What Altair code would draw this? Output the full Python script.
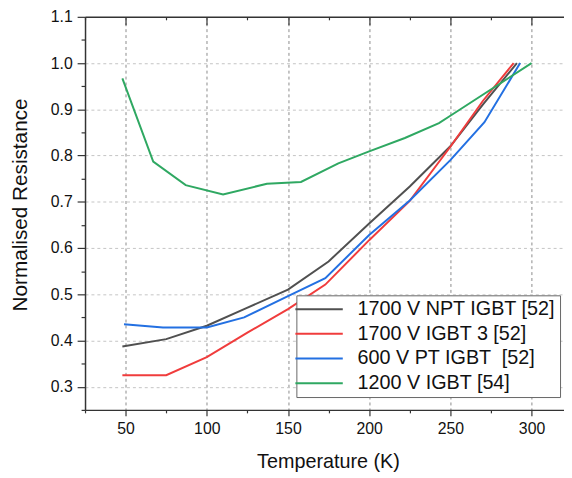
import altair as alt
import pandas as pd

# ---- data ----
series_names = ["1700 V NPT IGBT [52]", "1700 V IGBT 3 [52]", "600 V PT IGBT \u00a0[52]", "1200 V IGBT [54]"]
series_colors = ["#505050", "#f03c3c", "#2370e2", "#2fa862"]

npt_T = [48, 75, 100, 123, 150, 175, 200, 225, 250, 270, 291]
npt_R = [0.387, 0.403, 0.432, 0.468, 0.510, 0.571, 0.653, 0.733, 0.820, 0.910, 1.0]

igbt3_T = [48, 75, 100, 125, 150, 173, 200, 225, 250, 270, 289]
igbt3_R = [0.325, 0.325, 0.364, 0.417, 0.468, 0.521, 0.617, 0.702, 0.819, 0.918, 1.0]

pt_T = [49, 73, 100, 123, 150, 173, 200, 225, 250, 271, 293]
pt_R = [0.435, 0.428, 0.428, 0.450, 0.496, 0.535, 0.628, 0.703, 0.790, 0.872, 1.0]

v1200_T = [48, 67, 87, 110, 137, 158, 181, 200, 222, 243, 250, 300]
v1200_R = [0.967, 0.787, 0.736, 0.716, 0.739, 0.743, 0.783, 0.809, 0.838, 0.870, 0.886, 1.0]

x_ticks = [25, 50, 75, 100, 125, 150, 175, 200, 225, 250, 275, 300]
y_ticks = [0.25, 0.3, 0.35, 0.4, 0.45, 0.5, 0.55, 0.6, 0.65, 0.7, 0.75, 0.8, 0.85, 0.9, 0.95, 1.0, 1.05, 1.1]

rows = []
for name, T, R in zip(series_names, [npt_T, igbt3_T, pt_T, v1200_T], [npt_R, igbt3_R, pt_R, v1200_R]):
    for i, (t, r) in enumerate(zip(T, R)):
        rows.append({"series": name, "T": t, "R": r, "order": i})
df = pd.DataFrame(rows)

FONT = "Liberation Sans"
W, H = 485, 398

x_major = "datum.value % 50 === 0"
y_major = "round(datum.value * 100) % 10 === 0"

x_scale = alt.Scale(domain=[25, 320], nice=False, zero=False)
y_scale = alt.Scale(domain=[0.25, 1.1], nice=False, zero=False)

color = alt.Color(
    "series:N",
    scale=alt.Scale(domain=series_names, range=series_colors),
    sort=series_names,
    legend=alt.Legend(
        title=None,
        orient="none",
        legendX=214,
        legendY=282,
        direction="vertical",
        padding=4,
        strokeColor="#666666",
        fillColor="white",
        labelFont=FONT,
        labelFontSize=20,
        labelColor="#111111",
        labelLimit=500,
        symbolType="M-4.8,0L4.8,0",
        symbolSize=100,
        symbolStrokeWidth=2,
        symbolOffset=9,
        labelOffset=29,
        rowPadding=5,
    ),
)

lines = alt.Chart(df).mark_line(strokeWidth=2).encode(
    x=alt.X(
        "T:Q",
        scale=x_scale,
        axis=alt.Axis(
            values=x_ticks,
            title="Temperature (K)",
            titleFont=FONT,
            titleFontSize=20,
            titleFontWeight="normal",
            titleColor="#111111",
            titleBaseline="alphabetic",
            titleX=246,
            titleY=58.5,
            labelFont=FONT,
            labelFontSize=16,
            labelColor="#111111",
            labelExpr="datum.value % 50 === 0 ? datum.label : ''",
            labelPadding=5,
            domainColor="#333333",
            domainWidth=1.5,
            tickColor="#333333",
            tickWidth=1.2,
            tickSize={"condition": {"test": x_major, "value": 6}, "value": 3},
            grid=True,
            gridColor="#8a8a8a",
            gridDash=[3, 3],
            gridWidth=1,
            gridOpacity={"condition": {"test": "datum.value % 50 === 0 && datum.value > 25", "value": 1}, "value": 0},
        ),
    ),
    y=alt.Y(
        "R:Q",
        scale=y_scale,
        axis=alt.Axis(
            values=y_ticks,
            title="Normalised Resistance",
            titleFont=FONT,
            titleFontSize=21,
            titleFontWeight="normal",
            titleColor="#111111",
            titleBaseline="alphabetic",
            titleX=-59,
            titleY=190,
            labelFont=FONT,
            labelFontSize=16,
            labelColor="#111111",
            labelExpr=f"{y_major} ? format(datum.value, '.1f') : ''",
            labelPadding=5,
            domainColor="#333333",
            domainWidth=1.5,
            tickColor="#333333",
            tickWidth=1.2,
            tickSize={"condition": {"test": y_major, "value": 8}, "value": 4},
            grid=True,
            gridColor="#c4c4c4",
            gridDash=[3, 3],
            gridWidth=1,
            gridOpacity={"condition": {"test": f"{y_major} && datum.value > 0.26 && datum.value < 1.09", "value": 1}, "value": 0},
        ),
    ),
    color=color,
    order="order:Q",
)

# top frame axis with inward ticks
top_axis = alt.Chart(df).mark_line(opacity=0).encode(
    x=alt.X(
        "T:Q",
        scale=x_scale,
        axis=alt.Axis(
            orient="top",
            values=x_ticks,
            title=None,
            labels=False,
            grid=False,
            domainColor="#333333",
            domainWidth=1.5,
            tickColor="#333333",
            tickWidth=1.2,
            tickSize={"condition": {"test": x_major, "value": -8}, "value": -3},
        ),
    ),
    y=alt.Y("R:Q", scale=y_scale, axis=None),
    detail="series:N",
)

chart = (
    alt.layer(lines, top_axis)
    .resolve_axis(x="independent", y="independent")
    .properties(
        width=W,
        height=H,
        padding={"left": 78, "top": 6, "right": 0, "bottom": 64},
        autosize=alt.AutoSizeParams(type="none"),
        background="white",
    )
    .configure_view(stroke=None)
)

chart.save("out.html", embed_options={"renderer": "svg", "actions": False})
